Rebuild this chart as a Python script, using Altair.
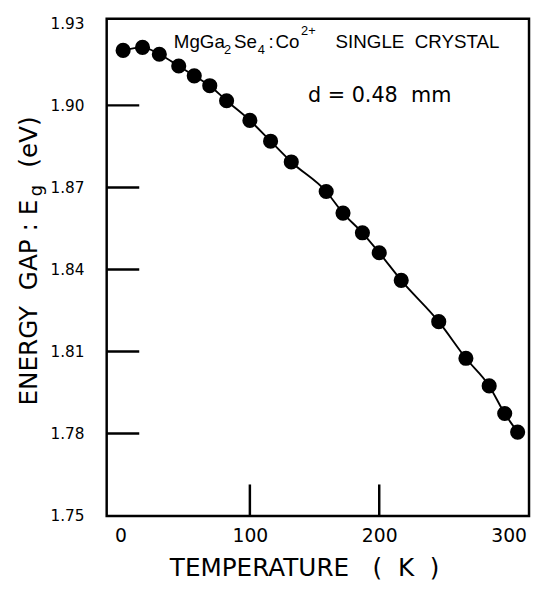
import altair as alt
import pandas as pd

# ---- data ----
temperature = [2, 17, 30, 45, 57, 69, 82, 100, 116, 132, 159, 172, 187, 200,
               217, 246, 267, 285, 297, 307]
energy_gap = [1.9201, 1.9212, 1.9187, 1.9144, 1.9108, 1.9072, 1.9017, 1.8945,
              1.8869, 1.8793, 1.8685, 1.8606, 1.8534, 1.8461, 1.8360, 1.8209,
              1.8075, 1.7974, 1.7873, 1.7805]
y_tick_values = [1.75, 1.78, 1.81, 1.84, 1.87, 1.90, 1.93]
y_inner_ticks = [1.78, 1.81, 1.84, 1.87, 1.90]
x_tick_values = [0, 100, 200, 300]
x_inner_ticks = [100, 200]

W, H = 428, 504
OX, OY = 108, 15  # page position of plot origin

df = pd.DataFrame({"T": temperature, "E": energy_gap})
ytk = pd.DataFrame({"v": y_inner_ticks})
xtk = pd.DataFrame({"v": x_inner_ticks})
one = pd.DataFrame({"k": [0]})

xscale = alt.Scale(domain=[-10.7, 315.8], nice=False, zero=False)
yscale = alt.Scale(domain=[1.7498, 1.9317], nice=False, zero=False)

xaxis = alt.Axis(values=x_tick_values, ticks=False, tickSize=0, domain=False,
                 grid=False, labelFont="DejaVu Sans", labelFontSize=19,
                 labelColor="black", labelPadding=11, labelFlush=False,
                 labelOverlap=False, title=None, format="d")
yaxis = alt.Axis(values=y_tick_values, ticks=False, tickSize=0, domain=False,
                 grid=False, labelFont="DejaVu Sans", labelFontSize=15.5,
                 labelColor="black", labelPadding=23, labelFlush=False,
                 labelOverlap=False, title=None, format=".2f")

base = alt.Chart(df)
line = base.mark_line(color="black", strokeWidth=1.9, interpolate="monotone").encode(
    x=alt.X("T:Q", scale=xscale, axis=xaxis),
    y=alt.Y("E:Q", scale=yscale, axis=yaxis),
)
pts = base.mark_circle(color="black", opacity=1, size=235).encode(
    x=alt.X("T:Q", scale=xscale),
    y=alt.Y("E:Q", scale=yscale),
)
yt = alt.Chart(ytk).mark_rule(color="black", strokeWidth=2.5).encode(
    y=alt.Y("v:Q", scale=yscale),
    x=alt.value(0), x2=alt.value(33),
)
xt = alt.Chart(xtk).mark_rule(color="black", strokeWidth=2.5).encode(
    x=alt.X("v:Q", scale=xscale),
    y=alt.value(H - 32), y2=alt.value(H),
)


def txt(text, px, py, size, font="DejaVu Sans", angle=0, align="left"):
    return alt.Chart(one).mark_text(
        text=text, font=font, fontSize=size, angle=angle, align=align,
        baseline="alphabetic", color="black",
    ).encode(x=alt.value(px - OX), y=alt.value(py - OY))


NB = "\u00a0"
texts = [
    # y title
    txt("ENERGY" + NB * 2 + "GAP" + NB + ":" + NB + "E", 37, 407, 25, angle=270),
    txt("g", 42, 195, 18, angle=270),
    txt("(eV)", 37, 166, 25, angle=270),
    # x title
    txt("TEMPERATURE" + NB * 3 + "(" + NB * 2 + "K" + NB * 2 + ")", 172, 580, 25),
    # annotation
    txt("MgGa", 176, 45, 19, font="Liberation Sans"),
    txt("2", 227, 51, 13, font="Liberation Sans"),
    txt("Se", 237, 45, 19, font="Liberation Sans"),
    txt("4", 261, 51, 13, font="Liberation Sans"),
    txt(":", 272, 45, 19, font="Liberation Sans"),
    txt("Co", 279, 45, 19, font="Liberation Sans"),
    txt("2+", 305, 32, 13, font="Liberation Sans"),
    txt("SINGLE" + NB * 2 + "CRYSTAL", 340, 45, 19, font="Liberation Sans"),
    txt("d" + NB + "=" + NB + "0.48" + NB * 2 + "mm", 312, 99, 21),
]

chart = alt.layer(line, xt, yt, pts, *texts).properties(
    width=W, height=H,
    autosize=alt.AutoSizeParams(type="none"),
    padding={"left": 100, "top": 7, "right": 2, "bottom": 64},
).configure_view(stroke="black", strokeWidth=2.5)

chart.save("out.html", embed_options={"renderer": "svg", "actions": False})
